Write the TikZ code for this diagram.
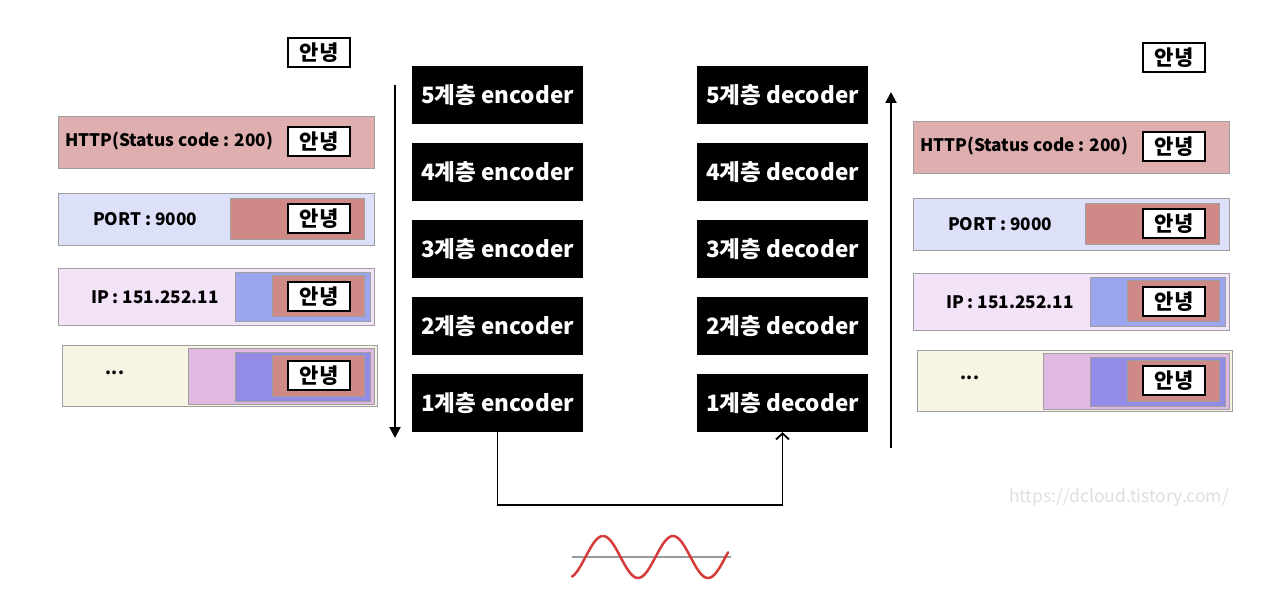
\documentclass[tikz,border=0pt]{standalone}
\usepackage{fontspec}
\setmainfont{Noto Sans CJK KR}
\usetikzlibrary{arrows.meta}
\definecolor{httpc}{HTML}{DFAEAE}
\definecolor{portc}{HTML}{DCE0F8}
\definecolor{redc}{HTML}{CF8A87}
\definecolor{ipc}{HTML}{F3E3F8}
\definecolor{bluec}{HTML}{9CA6EF}
\definecolor{dotc}{HTML}{F8F4E4}
\definecolor{purpc}{HTML}{E0B9E2}
\definecolor{blueb}{HTML}{928CE6}
\definecolor{wavec}{HTML}{D63B3B}
\tikzset{
  layer/.style={draw=gray!75, line width=0.9pt, anchor=north west, inner sep=0pt},
  hello/.style={draw=black, fill=white, line width=2pt, minimum width=62pt, minimum height=29pt, inner sep=0pt, font=\fontsize{21}{24}\selectfont\bfseries},
  lbl/.style={inner sep=0pt, font=\fontsize{17.2}{20}\selectfont\bfseries},
  coder/.style={fill=black, text=white, minimum width=171pt, minimum height=58pt, inner sep=0pt, font=\fontsize{22.5}{26}\selectfont\bfseries},
  flow/.style={line width=2pt, -{Triangle[length=11pt,width=11pt]}},
}
\newcommand\rbox[6]{\node[layer, fill=#2, minimum width=#5pt, minimum height=#6pt] (#1) at (#3,#4) {};}
\newcommand\side[3]{%
\begin{scope}[shift={(#2,#3)}]
  \node[hello] (#1-top) at (319,52.5) {안녕};
  % HTTP
  \rbox{#1-http}{httpc}{58}{116}{316}{52}
  \node[lbl, anchor=west] (#1-httpt) at (65,141) {HTTP(Status code : 200)};
  \node[hello] (#1-h1) at (319,142) {안녕};
  % PORT
  \rbox{#1-port}{portc}{58}{193}{316}{52}
  \rbox{#1-port-r}{redc}{230}{198}{134}{41}
  \node[lbl] (#1-portt) at (145,219) {PORT : 9000};
  \node[hello] (#1-h2) at (319,218.5) {안녕};
  % IP
  \rbox{#1-ip}{ipc}{58}{268}{316}{57}
  \rbox{#1-ip-b}{bluec}{235}{272}{135}{49}
  \rbox{#1-ip-r}{redc}{272}{275}{92}{41}
  \node[lbl] (#1-ipt) at (155,297) {IP : 151.252.11};
  \node[hello] (#1-h3) at (319,296.5) {안녕};
  % dots
  \rbox{#1-dot}{dotc}{62}{345}{315}{61}
  \rbox{#1-dot-p}{purpc}{188}{348}{186}{56}
  \rbox{#1-dot-b}{blueb}{235}{352}{135}{49}
  \rbox{#1-dot-r}{redc}{272}{355}{92}{41}
  \node[lbl] (#1-dott) at (115,373) {...};
  \node[hello] (#1-h4) at (319,375.5) {안녕};
\end{scope}}
\begin{document}
\begin{tikzpicture}[x=1pt,y=-1pt]
\useasboundingbox[fill=white] (0,0) rectangle (1276,604);
\side{L}{0}{0}
\side{R}{855}{5}
% encoders / decoders
\foreach \n/\y in {5/95,4/172,3/249,2/326,1/403}{
  \node[coder] (enc\n) at (497.5,\y) {{\n}계층 encoder};
  \node[coder] (dec\n) at (782.5,\y) {{\n}계층 decoder};
}
% flow arrows
\coordinate (dtop) at (395,85);
\coordinate (dbot) at (395,438);
\draw[flow] (dtop) -- (dbot);
\coordinate (ubot) at (891,448);
\coordinate (utop) at (891,92);
\draw[flow] (ubot) -- (utop);
% connector
\draw[line width=1.6pt, -{Straight Barb[length=6pt,width=13pt,line width=1.8pt]}] (enc1.south) -- ++(0,73) -| (dec1.south);
% wave
\coordinate (wl) at (572,557);
\coordinate (wr) at (731,557);
\draw[gray!80, line width=1.3pt] (wl) -- (wr);
\draw[wavec, line width=2.5pt, line cap=round, domain=572:728, samples=120, smooth] plot (\x, {557 - 21*sin((\x-585.5)*5.142857)});
% watermark
\node[text=gray!25, font=\fontsize{17.5}{20}\selectfont, inner sep=0pt] (wm) at (1119,498) {https://dcloud.tistory.com/};
\end{tikzpicture}
\end{document}
